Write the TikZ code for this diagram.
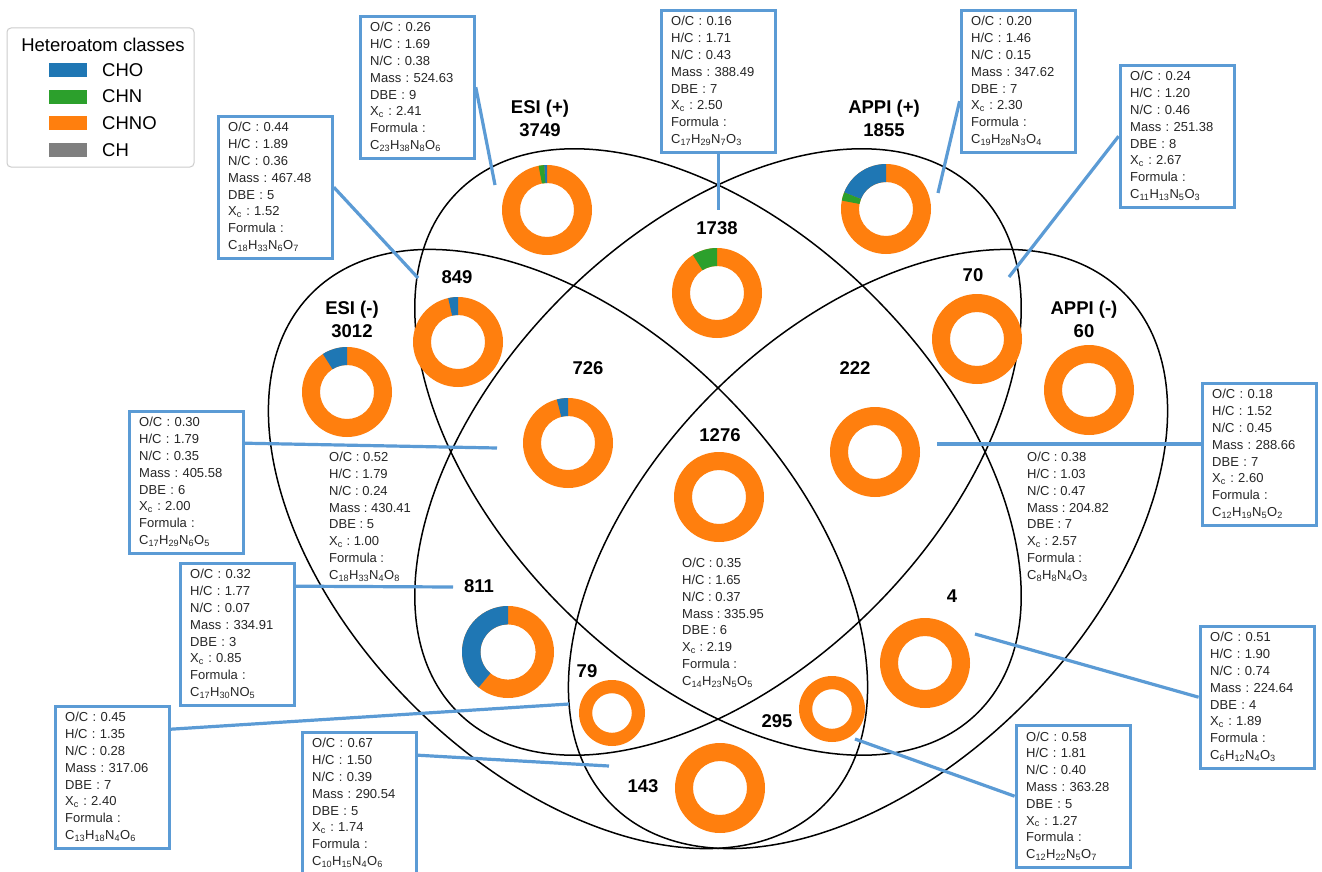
\documentclass[tikz,border=0pt]{standalone}
\usepackage{fontspec}
\setmainfont{Liberation Sans}
\frenchspacing
\definecolor{cho}{RGB}{31,119,180}
\definecolor{chn}{RGB}{44,160,44}
\definecolor{chno}{RGB}{255,127,14}
\definecolor{chgray}{RGB}{127,127,127}
\definecolor{boxblue}{RGB}{91,155,213}
\newcommand{\subs}[1]{\textsubscript{#1}}
\newcommand{\vennfont}{\fontsize{18.5}{23}\selectfont\bfseries}
\newcommand{\infofont}{\fontsize{13}{16.8}\selectfont}
\newcommand{\legfont}{\fontsize{18.5}{22}\selectfont}
\newcommand{\info}[7]{O/C : #1\\H/C : #2\\N/C : #3\\Mass : #4\\DBE : #5\\X\subs{c} : #6\\Formula :\\#7}
\newcommand{\donut}[5]{%
  \pgfmathsetmacro{\rin}{0.6*#3}%
  \pgfmathsetmacro{\rdif}{#3-\rin}%
  \pgfmathsetmacro{\angA}{-90-3.6*#4}%
  \pgfmathsetmacro{\angB}{\angA-3.6*#5}%
  \fill[chno, even odd rule] (#1,#2) circle[radius=#3] (#1,#2) circle[radius=\rin];
  \ifdim #4pt>0pt
    \fill[cho] (#1,#2) ++(-90:#3) arc[start angle=-90, end angle=\angA, radius=#3]
      -- ++(\angA:-\rdif) arc[start angle=\angA, end angle=-90, radius=\rin] -- cycle;
  \fi
  \ifdim #5pt>0pt
    \fill[chn] (#1,#2) ++(\angA:#3) arc[start angle=\angA, end angle=\angB, radius=#3]
      -- ++(\angB:-\rdif) arc[start angle=\angB, end angle=\angA, radius=\rin] -- cycle;
  \fi
}
\tikzset{
  venn/.style={draw=black, line width=1.5pt},
  count/.style={font=\vennfont, align=center, inner sep=0pt},
  infobox/.style={draw=boxblue, line width=3.2pt, fill=white, text=black!85,
    inner xsep=10pt, inner ysep=5pt, text width=94pt, minimum height=142pt,
    align=left, anchor=north west, font=\infofont},
  freeinfo/.style={text=black!85, inner sep=0pt, align=left, anchor=north west, font=\infofont},
  leader/.style={draw=boxblue, line width=3.2pt},
  swatch/.style={minimum width=38pt, minimum height=14pt, inner sep=0pt},
  legtext/.style={font=\legfont, anchor=west, inner sep=0pt}
}
\begin{document}
\begin{tikzpicture}[x=1pt, y=-1pt]
  \path[use as bounding box, fill=white] (0,0) rectangle (1322,872);

  \coordinate (cA) at (568,549);
  \coordinate (cB) at (718,452);
  \coordinate (cC) at (718,452);
  \coordinate (cD) at (868,549);
  \draw[venn, rotate around={-45:(cA)}] (cA) ellipse[x radius=362, y radius=220];
  \draw[venn, rotate around={-45:(cB)}] (cB) ellipse[x radius=368, y radius=220];
  \draw[venn, rotate around={45:(cC)}] (cC) ellipse[x radius=368, y radius=220];
  \draw[venn, rotate around={45:(cD)}] (cD) ellipse[x radius=362, y radius=220];

  \foreach \n/\x/\y/\rad/\po/\pn in {3749/547/210/45/1/2, 1855/886/209/45/19/3,
      3012/347/392/45/9/0, 849/458/342/45/3.5/0, 1738/717/293/45/0/9,
      70/977/339/45/0/0, 60/1089/390/45/0/0, 726/568/443/45/4/0,
      222/875/452/45/0/0, 1276/719/497/45/0/0, 811/508/652/46/39/0,
      4/925/663/45/0/0, 79/612/713/33/0/0, 295/832/709/33/0/0, 143/720/788/45/0/0} {
    \coordinate (d\n) at (\x,\y);
    \donut{\x}{\y}{\rad}{\po}{\pn}
  }

  \node[count] (lesip) at (540,118) {ESI (+)\\3749};
  \node[count] (lappip) at (884,118) {APPI (+)\\1855};
  \node[count] (lesin) at (352,319) {ESI (-)\\3012};
  \node[count] (lappin) at (1084,319) {APPI (-)\\60};
  \node[count] (l849) at (457,277) {849};
  \node[count] (l1738) at (717,228) {1738};
  \node[count] (l70) at (973,275) {70};
  \node[count] (l726) at (588,368) {726};
  \node[count] (l222) at (855,368) {222};
  \node[count] (l1276) at (720,435) {1276};
  \node[count] (l811) at (479,586) {811};
  \node[count] (l4) at (952,596) {4};
  \node[count] (l79) at (587,671) {79};
  \node[count] (l295) at (777,721) {295};
  \node[count] (l143) at (643,786) {143};

  \node[freeinfo] (t3012) at (329,452) {\info{0.52}{1.79}{0.24}{430.41}{5}{1.00}{C\subs{18}H\subs{33}N\subs{4}O\subs{8}}};
  \node[freeinfo] (t60) at (1027,452) {\info{0.38}{1.03}{0.47}{204.82}{7}{2.57}{C\subs{8}H\subs{8}N\subs{4}O\subs{3}}};
  \node[freeinfo] (t1276) at (682,558) {\info{0.35}{1.65}{0.37}{335.95}{6}{2.19}{C\subs{14}H\subs{23}N\subs{5}O\subs{5}}};

  \coordinate (e3749) at (495,185);
  \coordinate (e849) at (418,278);
  \coordinate (e1738) at (718,210);
  \coordinate (e1855) at (938,193);
  \coordinate (e70) at (1009,277);
  \coordinate (e726) at (497,448);
  \coordinate (e811) at (453,587);
  \coordinate (e79) at (569,704);
  \coordinate (e143) at (609,766);
  \coordinate (e222) at (937,444);
  \coordinate (e4) at (975,634);
  \coordinate (e295) at (855,739);

  \node[infobox] (b3749) at (358.6,14.6) {\info{0.26}{1.69}{0.38}{524.63}{9}{2.41}{C\subs{23}H\subs{38}N\subs{8}O\subs{6}}};
  \node[infobox] (b849) at (216.6,114.6) {\info{0.44}{1.89}{0.36}{467.48}{5}{1.52}{C\subs{18}H\subs{33}N\subs{6}O\subs{7}}};
  \node[infobox] (b1738) at (659.6,8.6) {\info{0.16}{1.71}{0.43}{388.49}{7}{2.50}{C\subs{17}H\subs{29}N\subs{7}O\subs{3}}};
  \node[infobox] (b1855) at (959.6,8.6) {\info{0.20}{1.46}{0.15}{347.62}{7}{2.30}{C\subs{19}H\subs{28}N\subs{3}O\subs{4}}};
  \node[infobox] (b70) at (1118.6,63.6) {\info{0.24}{1.20}{0.46}{251.38}{8}{2.67}{C\subs{11}H\subs{13}N\subs{5}O\subs{3}}};
  \node[infobox] (b726) at (127.6,409.6) {\info{0.30}{1.79}{0.35}{405.58}{6}{2.00}{C\subs{17}H\subs{29}N\subs{6}O\subs{5}}};
  \node[infobox] (b811) at (178.6,561.6) {\info{0.32}{1.77}{0.07}{334.91}{3}{0.85}{C\subs{17}H\subs{30}NO\subs{5}}};
  \node[infobox] (b79) at (53.6,704.6) {\info{0.45}{1.35}{0.28}{317.06}{7}{2.40}{C\subs{13}H\subs{18}N\subs{4}O\subs{6}}};
  \node[infobox] (b143) at (300.6,730.6) {\info{0.67}{1.50}{0.39}{290.54}{5}{1.74}{C\subs{10}H\subs{15}N\subs{4}O\subs{6}}};
  \node[infobox] (b222) at (1200.6,381.6) {\info{0.18}{1.52}{0.45}{288.66}{7}{2.60}{C\subs{12}H\subs{19}N\subs{5}O\subs{2}}};
  \node[infobox] (b4) at (1198.6,624.6) {\info{0.51}{1.90}{0.74}{224.64}{4}{1.89}{C\subs{6}H\subs{12}N\subs{4}O\subs{3}}};
  \node[infobox] (b295) at (1014.6,723.6) {\info{0.58}{1.81}{0.40}{363.28}{5}{1.27}{C\subs{12}H\subs{22}N\subs{5}O\subs{7}}};

  \draw[leader] (b3749.east) -- (e3749);
  \draw[leader] (b849.east) -- (e849);
  \draw[leader] (b1738.south) -- (b1738.south |- e1738);
  \draw[leader] ([yshift=-20pt]b1855.west) -- (e1855);
  \draw[leader] (b70.west) -- (e70);
  \draw[leader] ([yshift=39pt]b726.east) -- (e726);
  \draw[leader] ([yshift=48pt]b811.east) -- (e811);
  \draw[leader] ([yshift=48pt]b79.east) -- (e79);
  \draw[leader] ([yshift=48pt]b143.east) -- (e143);
  \draw[leader] (b222.west |- e222) -- (e222);
  \draw[leader] (b4.west) -- (e4);
  \draw[leader] (b295.west) -- (e295);

  \draw[rounded corners=4pt, draw=black!20, line width=1pt] (7,28) rectangle (194,167);
  \node[font=\legfont, inner sep=0pt] (legtitle) at (103,45) {Heteroatom classes};
  \foreach \col/\lab [count=\i] in {cho/CHO, chn/CHN, chno/CHNO, chgray/CH} {
    \pgfmathsetmacro{\ly}{43.4+26.6*\i}
    \node[swatch, fill=\col] (sw\i) at (68,\ly) {};
    \node[legtext] (lg\i) at (102,\ly) {\lab};
  }
\end{tikzpicture}
\end{document}
